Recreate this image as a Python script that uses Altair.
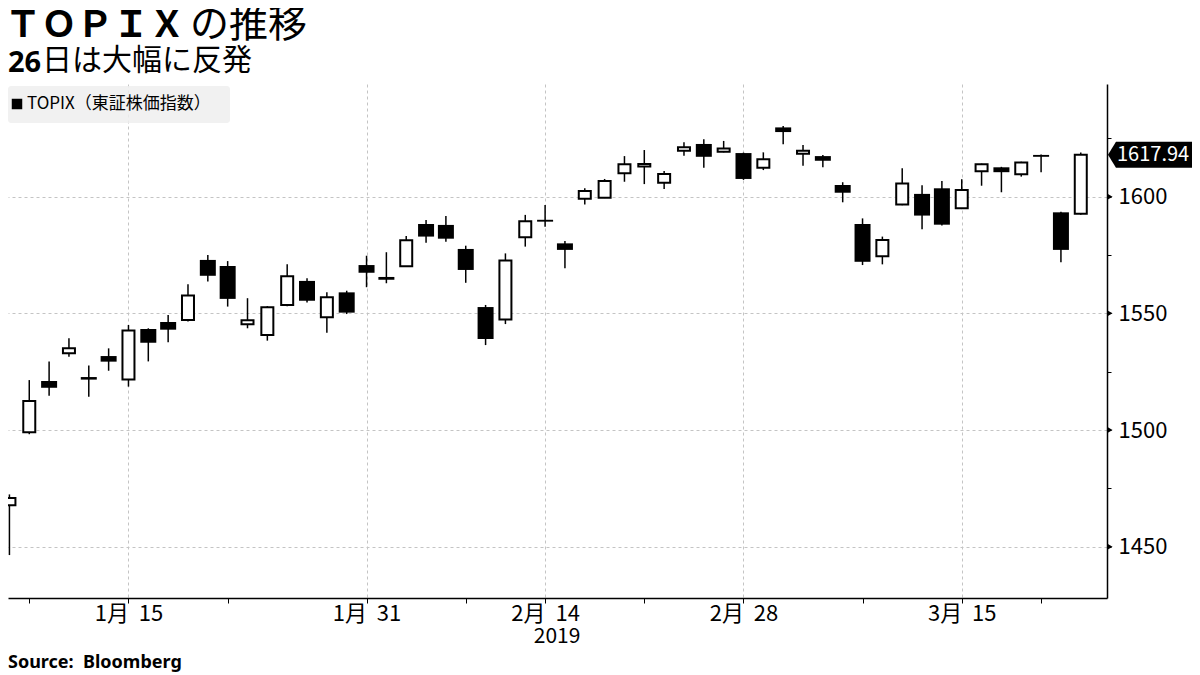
import json
import altair as alt
import pandas as pd

# ---- data ----
dates = [
    "2019-01-04", "2019-01-07", "2019-01-08", "2019-01-09", "2019-01-10", "2019-01-11",
    "2019-01-15", "2019-01-16", "2019-01-17", "2019-01-18", "2019-01-21", "2019-01-22",
    "2019-01-23", "2019-01-24", "2019-01-25", "2019-01-28", "2019-01-29", "2019-01-30",
    "2019-01-31", "2019-02-01", "2019-02-04", "2019-02-05", "2019-02-06", "2019-02-07",
    "2019-02-08", "2019-02-12", "2019-02-13", "2019-02-14", "2019-02-15", "2019-02-18",
    "2019-02-19", "2019-02-20", "2019-02-21", "2019-02-22", "2019-02-25", "2019-02-26",
    "2019-02-27", "2019-02-28", "2019-03-01", "2019-03-04", "2019-03-05", "2019-03-06",
    "2019-03-07", "2019-03-08", "2019-03-11", "2019-03-12", "2019-03-13", "2019-03-14",
    "2019-03-15", "2019-03-18", "2019-03-19", "2019-03-20", "2019-03-22", "2019-03-25",
    "2019-03-26",
]
opens = [
    1467.7, 1499.0, 1521.0, 1532.9, 1522.7, 1531.7, 1521.7, 1543.3, 1546.3, 1547.1,
    1572.9, 1570.3, 1545.3, 1540.7, 1553.6, 1563.9, 1548.3, 1559.0, 1570.7, 1565.6,
    1570.2, 1588.3, 1587.9, 1577.6, 1552.7, 1547.4, 1582.6, 1590.1, 1580.0, 1599.1,
    1599.6, 1610.0, 1612.9, 1606.0, 1619.7, 1622.6, 1619.3, 1618.7, 1612.4, 1629.7,
    1618.4, 1617.4, 1605.0, 1588.3, 1574.5, 1596.7, 1601.2, 1603.6, 1595.0, 1610.9,
    1612.6, 1609.6, 1617.9, 1593.3, 1592.7,
]
highs = [
    1472.4, 1521.4, 1529.4, 1539.3, 1527.6, 1535.0, 1545.0, 1543.6, 1549.3, 1562.5,
    1575.0, 1572.4, 1556.5, 1553.1, 1571.0, 1565.0, 1559.0, 1559.7, 1574.7, 1576.2,
    1583.2, 1590.0, 1591.7, 1579.0, 1553.6, 1575.7, 1592.2, 1596.4, 1581.0, 1603.6,
    1607.6, 1617.4, 1620.0, 1611.0, 1623.3, 1624.6, 1623.9, 1618.9, 1619.0, 1630.3,
    1622.2, 1617.9, 1606.2, 1590.7, 1582.9, 1612.2, 1604.9, 1606.7, 1607.5, 1614.2,
    1612.8, 1615.0, 1618.1, 1593.5, 1618.9,
]
lows = [
    1446.4, 1498.2, 1514.7, 1531.4, 1514.3, 1525.4, 1518.6, 1529.4, 1537.6, 1546.5,
    1563.7, 1552.9, 1543.6, 1538.3, 1553.0, 1554.7, 1541.7, 1549.7, 1561.2, 1562.9,
    1570.0, 1580.3, 1580.7, 1563.1, 1536.4, 1545.4, 1578.6, 1587.1, 1569.3, 1596.7,
    1599.4, 1606.4, 1605.4, 1603.3, 1617.6, 1612.4, 1619.0, 1607.2, 1611.4, 1622.5,
    1613.3, 1612.6, 1597.6, 1570.7, 1571.0, 1596.3, 1586.0, 1587.7, 1594.7, 1604.7,
    1601.9, 1608.6, 1610.5, 1571.9, 1592.3,
]
closes = [
    1470.9, 1512.4, 1518.1, 1535.0, 1521.6, 1529.3, 1542.7, 1537.4, 1543.0, 1557.7,
    1566.1, 1556.2, 1547.0, 1552.6, 1565.9, 1555.4, 1556.9, 1550.3, 1567.4, 1564.4,
    1581.3, 1582.9, 1582.0, 1568.6, 1539.0, 1572.7, 1589.5, 1589.3, 1577.2, 1602.4,
    1606.7, 1613.9, 1614.0, 1609.7, 1621.2, 1617.1, 1620.7, 1607.6, 1616.0, 1627.7,
    1619.7, 1615.4, 1601.7, 1572.1, 1581.4, 1605.7, 1591.9, 1588.0, 1602.9, 1613.9,
    1610.5, 1614.7, 1617.1, 1577.2, 1617.94,
]

major_idx = [6, 18, 27, 37, 48]
major_labels = ["1月\u00a0 15", "1月\u00a0 31", "2月\u00a0 14", "2月\u00a0 28", "3月\u00a0 15"]
minor_idx = [1, 11, 23, 32, 43, 52]
year_label = "2019"
year_idx = 27
y_ticks = [1450, 1475, 1500, 1525, 1550, 1575, 1600, 1625]
y_labels = [1450, 1500, 1550, 1600]
last_close = 1617.94
last_close_text = "1617.94"

title_bold = "ＴＯＰＩＸ"
title_rest = "の推移"
sub_bold = "26"
sub_rest = "日は大幅に反発"
legend_text = "TOPIX（東証株価指数）"
source_text = "Source:\u00a0 Bloomberg"

# ---- layout ----
W, H = 1099, 514
PAD = {"left": 0, "top": 76, "right": 85, "bottom": 77}
X_DOM = [0.18, 55.07]
Y_DOM = [1428.0, 1648.3]
FONT = "Noto Sans CJK JP"

df = pd.DataFrame({"date": dates, "open": opens, "high": highs,
                   "low": lows, "close": closes})
df["i"] = list(range(len(df)))

xscale = alt.Scale(domain=X_DOM, nice=False, zero=False)
yscale = alt.Scale(domain=Y_DOM, nice=False, zero=False)

mi = json.dumps(major_idx)
ml = json.dumps(major_labels, ensure_ascii=False)
lab_expr = f"indexof({mi}, datum.value) >= 0 ? {ml}[indexof({mi}, datum.value)] : ''"

xaxis = alt.Axis(
    values=sorted(major_idx + minor_idx), labelExpr=lab_expr, title=None,
    grid=True, gridDash=[3, 3], gridColor="#c4c4c4", gridWidth=1,
    gridOpacity={"condition": {"test": f"indexof({mi}, datum.value) >= 0", "value": 1}, "value": 0},
    domainColor="black", domainWidth=1.5, tickColor="black", tickSize=5, tickWidth=1,
    labelFont=FONT, labelFontSize=22, labelColor="black", labelPadding=0,
    labelOverlap=False, labelFlush=False, labelBound=False,
)
yaxis = alt.Axis(
    orient="right", values=y_ticks, format="d", title=None,
    labelExpr="datum.value % 50 == 0 ? datum.label : ''",
    grid=True, gridDash=[3, 3], gridColor="#c4c4c4", gridWidth=1,
    gridOpacity={"condition": {"test": "datum.value % 50 == 0", "value": 1}, "value": 0},
    domainColor="black", domainWidth=1.5, tickColor="black", tickSize=4, tickWidth=1,
    labelFont=FONT, labelFontSize=22, labelColor="black", labelPadding=7,
    labelOverlap=False, labelBound=False,
)

base = alt.Chart(df)

wick = base.mark_rule(color="black", strokeWidth=1.5, clip=True).encode(
    x=alt.X("i:Q", scale=xscale, axis=xaxis),
    y=alt.Y("low:Q", scale=yscale, axis=yaxis),
    y2="high:Q",
)
down = base.transform_filter("datum.close < datum.open").mark_bar(
    size=16, fill="black", clip=True
).encode(
    x=alt.X("i:Q", scale=xscale),
    y=alt.Y("open:Q", scale=yscale),
    y2="close:Q",
)
up = base.transform_filter("datum.close >= datum.open").mark_bar(
    size=12, fill="white", stroke="black", strokeWidth=2, clip=True
).encode(
    x=alt.X("i:Q", scale=xscale),
    y=alt.Y("open:Q", scale=yscale),
    y2="close:Q",
)


def label(text, x, y, size, weight="normal", font=FONT, color="black", align="left", baseline="alphabetic"):
    return alt.Chart(pd.DataFrame({"t": [text]})).mark_text(
        font=font, fontSize=size, fontWeight=weight, color=color,
        align=align, baseline=baseline,
    ).encode(x=alt.value(x), y=alt.value(y), text="t:N")


legend_bg = alt.Chart(pd.DataFrame({"t": [legend_text]})).mark_rect(
    color="#eeeeee", opacity=0.85, cornerRadius=3
).encode(x=alt.value(0), x2=alt.value(222), y=alt.value(2), y2=alt.value(39))
legend_sq = alt.Chart(pd.DataFrame({"t": [legend_text]})).mark_point(
    shape="square", filled=True, size=110, color="black", opacity=1
).encode(x=alt.value(9), y=alt.value(20))
legend_lbl = label(legend_text, 19, 20, 17, baseline="middle")

t1 = label(title_bold, -3, -47, 36, weight="bold")
t2 = label(title_rest, 182, -47, 39)
s1 = label(sub_bold, 0, -12, 29, weight="bold", font="Noto Sans")
s2 = label(sub_rest, 34, -14, 30)
src = label(source_text, 0, 584, 18, weight="bold", font="Noto Sans")

year = alt.Chart(pd.DataFrame({"i": [year_idx], "t": [year_label]})).mark_text(
    font=FONT, fontSize=21, baseline="middle", dx=12, color="black"
).encode(x=alt.X("i:Q", scale=xscale), y=alt.value(H + 39), text="t:N")

tri = alt.Chart(pd.DataFrame({"v": y_labels})).mark_point(
    shape="triangle-right", filled=True, size=35, color="black", opacity=1
).encode(x=alt.value(W + 3), y=alt.Y("v:Q", scale=yscale))

tag_path = "M -1 0 L -0.81 -0.31 L 1 -0.31 L 1 0.31 L -0.81 0.31 Z"
tag = alt.Chart(pd.DataFrame({"v": [last_close], "t": [last_close_text]})).mark_point(
    shape=tag_path, filled=True, size=84 * 84, color="black", opacity=1, strokeWidth=0
).encode(x=alt.value(W + 43), y=alt.Y("v:Q", scale=yscale))
tag_txt = alt.Chart(pd.DataFrame({"v": [last_close], "t": [last_close_text]})).mark_text(
    font=FONT, fontSize=20, color="white", align="left", baseline="middle"
).encode(x=alt.value(W + 10), y=alt.Y("v:Q", scale=yscale), text="t:N")

chart = alt.layer(
    wick, down, up, legend_bg, legend_sq, legend_lbl,
    t1, t2, s1, s2, src, year, tri, tag, tag_txt,
).properties(
    width=W, height=H,
    padding=PAD,
    autosize=alt.AutoSizeParams(type="none"),
    background="white",
).configure_view(stroke=None)

chart.save("out.html", embed_options={"renderer": "svg", "actions": False})
